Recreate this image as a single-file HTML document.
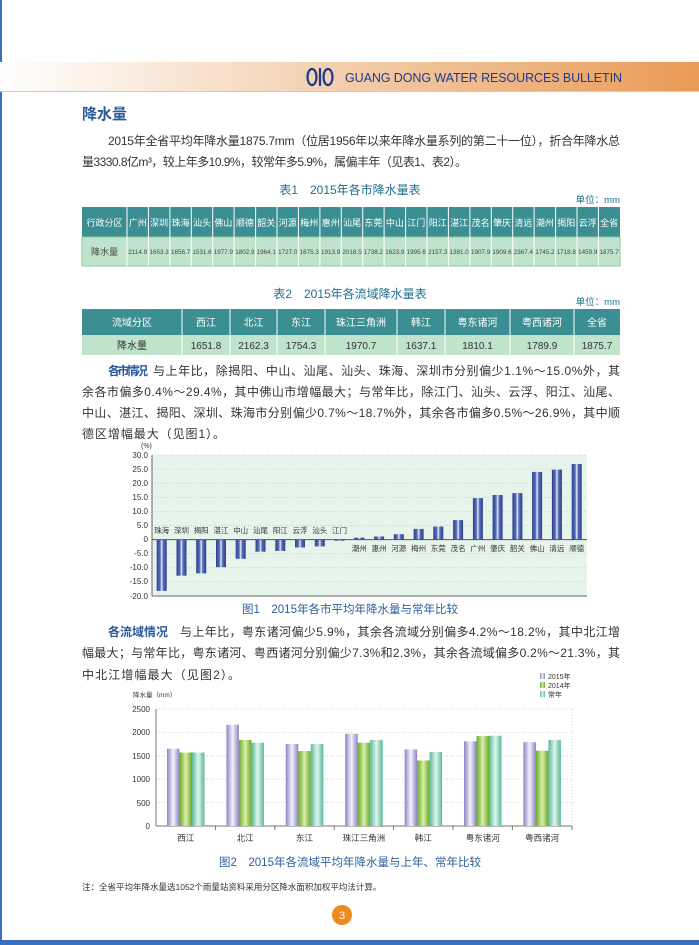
<!DOCTYPE html>
<html><head><meta charset="utf-8"><style>
html,body{margin:0;padding:0;background:#fff}
svg{display:block}
text{font-family:"Liberation Sans","Noto Sans CJK SC",sans-serif}
</style></head><body>
<svg width="699" height="945" viewBox="0 0 699 945" xmlns="http://www.w3.org/2000/svg">
<defs>
<linearGradient id="hdr" x1="0" x2="1"><stop offset="0" stop-color="#fff"/><stop offset="0.35" stop-color="#f6dcc4"/><stop offset="1" stop-color="#e99a55"/></linearGradient>
<linearGradient id="b1" x1="0" x2="1"><stop offset="0" stop-color="#2a3f8f"/><stop offset="0.35" stop-color="#5a6fb8"/><stop offset="0.5" stop-color="#e8ecf8"/><stop offset="0.65" stop-color="#5a6fb8"/><stop offset="1" stop-color="#2a3f8f"/></linearGradient>
<linearGradient id="gp" x1="0" x2="1"><stop offset="0" stop-color="#8c84c4"/><stop offset="0.5" stop-color="#f4f2fb"/><stop offset="1" stop-color="#8c84c4"/></linearGradient>
<linearGradient id="gg" x1="0" x2="1"><stop offset="0" stop-color="#6aa828"/><stop offset="0.5" stop-color="#d8f0a8"/><stop offset="1" stop-color="#6aa828"/></linearGradient>
<linearGradient id="gt" x1="0" x2="1"><stop offset="0" stop-color="#58b898"/><stop offset="0.5" stop-color="#e0f6ee"/><stop offset="1" stop-color="#58b898"/></linearGradient>
</defs>
<rect x="0" y="0" width="2" height="945" fill="#3a6fc0"/>
<rect x="0" y="940" width="699" height="5" fill="#3a6fc0"/>
<rect x="0" y="62" width="699" height="29" fill="url(#hdr)"/>
<rect x="0" y="91" width="699" height="1" fill="#ccc"/>
<g fill="none" stroke="#1d3a8a" stroke-width="2.2"><ellipse cx="312" cy="77" rx="4.5" ry="8"/><ellipse cx="328" cy="77" rx="4.5" ry="8"/><line x1="320" y1="68" x2="320" y2="86"/></g>
<text x="345" y="82" font-size="12.5" fill="#1d3a8a" textLength="277">GUANG DONG WATER RESOURCES BULLETIN</text>

<text x="82" y="119" font-size="15" fill="#2a5a9a" font-weight="bold">降水量</text>
<g font-size="12" fill="#333">
<text x="108" y="145" textLength="512">2015年全省平均年降水量1875.7mm（位居1956年以来年降水量系列的第二十一位），折合年降水总</text>
<text x="82" y="166" textLength="385">量3330.8亿m³，较上年多10.9%，较常年多5.9%，属偏丰年（见表1、表2）。</text>
</g>

<text x="350" y="194" font-size="12" fill="#1f6f8f" text-anchor="middle">表1　2015年各市降水量表</text>
<text x="620" y="203" font-size="9.5" fill="#1f6f8f" text-anchor="end">单位：mm</text>
<rect x="82" y="207" width="538" height="30" fill="#3b8e92"/>
<rect x="82" y="237" width="538" height="29" fill="#bfe3cb"/>
<rect x="82" y="237" width="538" height="29" fill="none" stroke="#8cc8a4"/>
<g stroke="#fff" stroke-width="1">
<line x1="127" y1="207" x2="127" y2="266"/><line x1="148.4" y1="207" x2="148.4" y2="266"/><line x1="169.9" y1="207" x2="169.9" y2="266"/><line x1="191.3" y1="207" x2="191.3" y2="266"/><line x1="212.7" y1="207" x2="212.7" y2="266"/><line x1="234.1" y1="207" x2="234.1" y2="266"/><line x1="255.6" y1="207" x2="255.6" y2="266"/><line x1="277" y1="207" x2="277" y2="266"/><line x1="298.4" y1="207" x2="298.4" y2="266"/><line x1="319.9" y1="207" x2="319.9" y2="266"/><line x1="341.3" y1="207" x2="341.3" y2="266"/><line x1="362.7" y1="207" x2="362.7" y2="266"/><line x1="384.1" y1="207" x2="384.1" y2="266"/><line x1="405.6" y1="207" x2="405.6" y2="266"/><line x1="427" y1="207" x2="427" y2="266"/><line x1="448.4" y1="207" x2="448.4" y2="266"/><line x1="469.9" y1="207" x2="469.9" y2="266"/><line x1="491.3" y1="207" x2="491.3" y2="266"/><line x1="512.7" y1="207" x2="512.7" y2="266"/><line x1="534.1" y1="207" x2="534.1" y2="266"/><line x1="555.6" y1="207" x2="555.6" y2="266"/><line x1="577" y1="207" x2="577" y2="266"/><line x1="598.4" y1="207" x2="598.4" y2="266"/>
</g>
<g font-size="9" fill="#fff" text-anchor="middle">
<text x="104.5" y="226">行政分区</text>
<text x="137.7" y="226">广州</text><text x="159.1" y="226">深圳</text><text x="180.6" y="226">珠海</text><text x="202" y="226">汕头</text><text x="223.4" y="226">佛山</text><text x="244.9" y="226">顺德</text><text x="266.3" y="226">韶关</text><text x="287.7" y="226">河源</text><text x="309.2" y="226">梅州</text><text x="330.6" y="226">惠州</text><text x="352" y="226">汕尾</text><text x="373.4" y="226">东莞</text><text x="394.9" y="226">中山</text><text x="416.3" y="226">江门</text><text x="437.7" y="226">阳江</text><text x="459.1" y="226">湛江</text><text x="480.6" y="226">茂名</text><text x="502" y="226">肇庆</text><text x="523.4" y="226">清远</text><text x="544.9" y="226">潮州</text><text x="566.3" y="226">揭阳</text><text x="587.7" y="226">云浮</text><text x="609.1" y="226">全省</text>
</g>
<g font-size="6.3" fill="#444" text-anchor="middle">
<text x="104.5" y="255" font-size="9">降水量</text>
<text x="137.7" y="254">2114.9</text><text x="159.1" y="254">1653.3</text><text x="180.6" y="254">1656.7</text><text x="202" y="254">1531.6</text><text x="223.4" y="254">1977.9</text><text x="244.9" y="254">1802.9</text><text x="266.3" y="254">1964.1</text><text x="287.7" y="254">1727.0</text><text x="309.2" y="254">1675.3</text><text x="330.6" y="254">1913.9</text><text x="352" y="254">2018.5</text><text x="373.4" y="254">1738.2</text><text x="394.9" y="254">1623.9</text><text x="416.3" y="254">1995.6</text><text x="437.7" y="254">2157.3</text><text x="459.1" y="254">1381.0</text><text x="480.6" y="254">1907.9</text><text x="502" y="254">1909.6</text><text x="523.4" y="254">2367.4</text><text x="544.9" y="254">1745.2</text><text x="566.3" y="254">1718.8</text><text x="587.7" y="254">1459.9</text><text x="609.1" y="254">1875.7</text>
</g>

<text x="350" y="298" font-size="12" fill="#1f6f8f" text-anchor="middle">表2　2015年各流域降水量表</text>
<text x="620" y="305" font-size="9.5" fill="#1f6f8f" text-anchor="end">单位：mm</text>
<rect x="82" y="309" width="538" height="26" fill="#3b8e92"/>
<rect x="82" y="335" width="538" height="20" fill="#bfe3cb"/>
<g stroke="#fff"><line x1="182" y1="309" x2="182" y2="355"/><line x1="230" y1="309" x2="230" y2="355"/><line x1="277" y1="309" x2="277" y2="355"/><line x1="325" y1="309" x2="325" y2="355"/><line x1="397" y1="309" x2="397" y2="355"/><line x1="445" y1="309" x2="445" y2="355"/><line x1="510" y1="309" x2="510" y2="355"/><line x1="574" y1="309" x2="574" y2="355"/></g>
<g font-size="10" fill="#fff" text-anchor="middle">
<text x="132" y="326">流域分区</text><text x="206" y="326">西江</text><text x="253.5" y="326">北江</text><text x="301" y="326">东江</text><text x="361" y="326">珠江三角洲</text><text x="421" y="326">韩江</text><text x="477.5" y="326">粤东诸河</text><text x="542" y="326">粤西诸河</text><text x="597" y="326">全省</text>
</g>
<g font-size="10" fill="#333" text-anchor="middle">
<text x="132" y="349">降水量</text><text x="206" y="349">1651.8</text><text x="253.5" y="349">2162.3</text><text x="301" y="349">1754.3</text><text x="361" y="349">1970.7</text><text x="421" y="349">1637.1</text><text x="477.5" y="349">1810.1</text><text x="542" y="349">1789.9</text><text x="597" y="349">1875.7</text>
</g>

<g font-size="12" fill="#333">
<text x="108" y="375" font-weight="bold" fill="#2a5a9a" textLength="40">各市情况</text>
<text x="153" y="375" textLength="467">与上年比，除揭阳、中山、汕尾、汕头、珠海、深圳市分别偏少1.1%～15.0%外，其</text>
<text x="82" y="396" textLength="538">余各市偏多0.4%～29.4%，其中佛山市增幅最大；与常年比，除江门、汕头、云浮、阳江、汕尾、</text>
<text x="82" y="417" textLength="538">中山、湛江、揭阳、深圳、珠海市分别偏少0.7%～18.7%外，其余各市偏多0.5%～26.9%，其中顺</text>
<text x="82" y="438" textLength="143">德区增幅最大（见图1）。</text>
</g>

<!-- chart 1 -->
<rect x="152" y="455" width="435" height="141" fill="#e6f4ec"/>
<g stroke="#b8c8c0" stroke-dasharray="1,2" stroke-width="0.8">
<line x1="152" y1="455" x2="587" y2="455"/><line x1="152" y1="469.1" x2="587" y2="469.1"/><line x1="152" y1="483.2" x2="587" y2="483.2"/><line x1="152" y1="497.3" x2="587" y2="497.3"/><line x1="152" y1="511.4" x2="587" y2="511.4"/><line x1="152" y1="525.5" x2="587" y2="525.5"/><line x1="152" y1="553.7" x2="587" y2="553.7"/><line x1="152" y1="567.8" x2="587" y2="567.8"/><line x1="152" y1="581.9" x2="587" y2="581.9"/>
</g>
<line x1="152" y1="455" x2="152" y2="596" stroke="#666"/>
<line x1="152" y1="596" x2="587" y2="596" stroke="#666"/>
<g font-size="8" fill="#333" text-anchor="end">
<text x="148" y="458">30.0</text><text x="148" y="472">25.0</text><text x="148" y="486">20.0</text><text x="148" y="500">15.0</text><text x="148" y="514">10.0</text><text x="148" y="528">5.0</text><text x="148" y="542">0</text><text x="148" y="556">-5.0</text><text x="148" y="570">-10.0</text><text x="148" y="584">-15.0</text><text x="148" y="599">-20.0</text>
</g>
<text x="141" y="448" font-size="7" fill="#333">(%)</text>
<g fill="url(#b1)">
<rect x="156.7" y="539.6" width="10" height="51.3"/><rect x="176.5" y="539.6" width="10" height="36.1"/><rect x="196.2" y="539.6" width="10" height="33.8"/><rect x="216" y="539.6" width="10" height="27.6"/><rect x="235.7" y="539.6" width="10" height="19.2"/><rect x="255.5" y="539.6" width="10" height="12.1"/><rect x="275.3" y="539.6" width="10" height="11.3"/><rect x="295" y="539.6" width="10" height="7.9"/><rect x="314.8" y="539.6" width="10" height="6.8"/><rect x="334.5" y="539.6" width="10" height="1.2"/>
<rect x="354.3" y="537.6" width="10" height="2"/><rect x="374.1" y="536.5" width="10" height="3.1"/><rect x="393.8" y="534.2" width="10" height="5.4"/><rect x="413.6" y="528.9" width="10" height="10.7"/><rect x="433.3" y="526.6" width="10" height="13"/><rect x="453.1" y="520.1" width="10" height="19.5"/><rect x="472.9" y="498.1" width="10" height="41.5"/><rect x="492.6" y="495" width="10" height="44.6"/><rect x="512.4" y="493.1" width="10" height="46.5"/><rect x="532.1" y="471.9" width="10" height="67.7"/><rect x="551.9" y="469.7" width="10" height="69.9"/><rect x="571.7" y="464" width="10" height="75.6"/>
</g>
<line x1="152" y1="539.6" x2="587" y2="539.6" stroke="#555"/>
<g font-size="7.5" fill="#333" text-anchor="middle">
<text x="161.7" y="533">珠海</text><text x="181.5" y="533">深圳</text><text x="201.2" y="533">揭阳</text><text x="221" y="533">湛江</text><text x="240.7" y="533">中山</text><text x="260.5" y="533">汕尾</text><text x="280.3" y="533">阳江</text><text x="300" y="533">云浮</text><text x="319.8" y="533">汕头</text><text x="339.5" y="533">江门</text>
<text x="359.3" y="551">潮州</text><text x="379.1" y="551">惠州</text><text x="398.8" y="551">河源</text><text x="418.6" y="551">梅州</text><text x="438.3" y="551">东莞</text><text x="458.1" y="551">茂名</text><text x="477.9" y="551">广州</text><text x="497.6" y="551">肇庆</text><text x="517.4" y="551">韶关</text><text x="537.1" y="551">佛山</text><text x="556.9" y="551">清远</text><text x="576.7" y="551">顺德</text>
</g>
<text x="350" y="613" font-size="11.5" fill="#2d5fa0" text-anchor="middle">图1　2015年各市平均年降水量与常年比较</text>

<g font-size="12" fill="#333">
<text x="108" y="636" font-weight="bold" fill="#2a5a9a" textLength="60">各流域情况</text>
<text x="180" y="636" textLength="440">与上年比，粤东诸河偏少5.9%，其余各流域分别偏多4.2%～18.2%，其中北江增</text>
<text x="82" y="657" textLength="538">幅最大；与常年比，粤东诸河、粤西诸河分别偏少7.3%和2.3%，其余各流域偏多0.2%～21.3%，其</text>
<text x="82" y="679" textLength="158">中北江增幅最大（见图2）。</text>
</g>

<!-- chart 2 -->
<g stroke="#c0c8c8" stroke-dasharray="1,2" stroke-width="0.8">
<line x1="156" y1="709" x2="572" y2="709"/><line x1="156" y1="732.4" x2="572" y2="732.4"/><line x1="156" y1="755.8" x2="572" y2="755.8"/><line x1="156" y1="779.2" x2="572" y2="779.2"/><line x1="156" y1="802.6" x2="572" y2="802.6"/><line x1="572" y1="709" x2="572" y2="826"/>
</g>
<line x1="156" y1="709" x2="156" y2="826" stroke="#777"/>
<line x1="156" y1="826" x2="572" y2="826" stroke="#777"/>
<g stroke="#777"><line x1="215.4" y1="826" x2="215.4" y2="830"/><line x1="274.8" y1="826" x2="274.8" y2="830"/><line x1="334.2" y1="826" x2="334.2" y2="830"/><line x1="393.6" y1="826" x2="393.6" y2="830"/><line x1="453" y1="826" x2="453" y2="830"/><line x1="512.4" y1="826" x2="512.4" y2="830"/><line x1="572" y1="826" x2="572" y2="830"/></g>
<g font-size="8" fill="#333" text-anchor="end">
<text x="150" y="712">2500</text><text x="150" y="735">2000</text><text x="150" y="759">1500</text><text x="150" y="782">1000</text><text x="150" y="806">500</text><text x="150" y="829">0</text>
</g>
<text x="133" y="697" font-size="6.5" fill="#333">降水量（mm）</text>
<g fill="url(#gp)">
<rect x="167" y="748.7" width="12.5" height="77.3"/><rect x="226.4" y="724.8" width="12.5" height="101.2"/><rect x="285.8" y="743.9" width="12.5" height="82.1"/><rect x="345.2" y="733.8" width="12.5" height="92.2"/><rect x="404.6" y="749.4" width="12.5" height="76.6"/><rect x="464" y="741.3" width="12.5" height="84.7"/><rect x="523.4" y="742.2" width="12.5" height="83.8"/>
</g>
<g fill="url(#gg)">
<rect x="179.5" y="752.5" width="12.5" height="73.5"/><rect x="238.9" y="739.9" width="12.5" height="86.1"/><rect x="298.3" y="751.1" width="12.5" height="74.9"/><rect x="357.7" y="742.7" width="12.5" height="83.3"/><rect x="417.1" y="760.5" width="12.5" height="65.5"/><rect x="476.5" y="736.1" width="12.5" height="89.9"/><rect x="535.9" y="750.7" width="12.5" height="75.3"/>
</g>
<g fill="url(#gt)">
<rect x="192" y="752.5" width="12.5" height="73.5"/><rect x="251.4" y="742.7" width="12.5" height="83.3"/><rect x="310.8" y="744.1" width="12.5" height="81.9"/><rect x="370.2" y="739.9" width="12.5" height="86.1"/><rect x="429.6" y="752.1" width="12.5" height="73.9"/><rect x="489" y="735.7" width="12.5" height="90.3"/><rect x="548.4" y="739.9" width="12.5" height="86.1"/>
</g>
<g font-size="8.5" fill="#333" text-anchor="middle">
<text x="185.7" y="841">西江</text><text x="245.1" y="841">北江</text><text x="304.5" y="841">东江</text><text x="363.9" y="841">珠江三角洲</text><text x="423.3" y="841">韩江</text><text x="482.7" y="841">粤东诸河</text><text x="542.1" y="841">粤西诸河</text>
</g>
<rect x="540" y="673" width="5" height="6" fill="url(#gp)"/><text x="548" y="679" font-size="7" fill="#333">2015年</text>
<rect x="540" y="682" width="5" height="6" fill="url(#gg)"/><text x="548" y="688" font-size="7" fill="#333">2014年</text>
<rect x="540" y="691" width="5" height="6" fill="url(#gt)"/><text x="548" y="697" font-size="7" fill="#333">常年</text>
<text x="350" y="866" font-size="11.5" fill="#2d5fa0" text-anchor="middle">图2　2015年各流域平均年降水量与上年、常年比较</text>

<text x="82" y="890" font-size="8.5" fill="#333">注：全省平均年降水量选1052个雨量站资料采用分区降水面积加权平均法计算。</text>
<circle cx="342" cy="915" r="10" fill="#f08a1e"/>
<text x="342" y="919" font-size="11" fill="#fff" text-anchor="middle">3</text>
</svg>
</body></html>
